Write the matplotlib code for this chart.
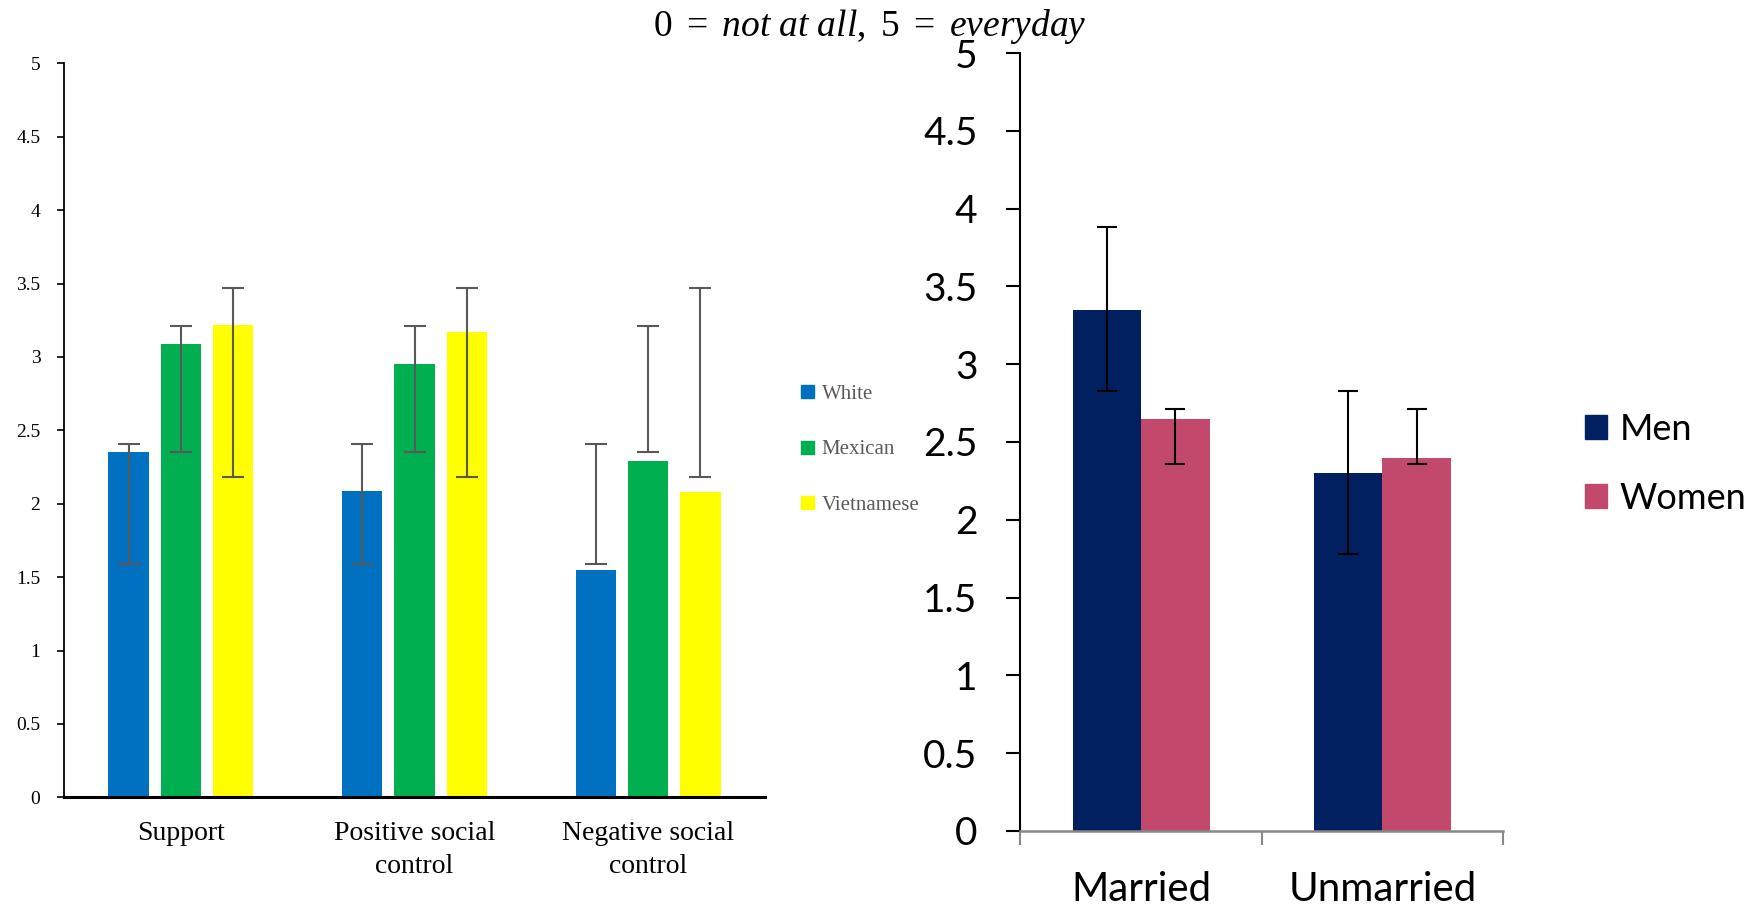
import numpy as np
import matplotlib
matplotlib.use("Agg")
import matplotlib.pyplot as plt
from matplotlib.ticker import FuncFormatter, FixedLocator
from matplotlib.patches import Patch

# left panel: ethnic groups
categories_left = ["Support", "Positive social\ncontrol", "Negative social\ncontrol"]
groups_left = ["White", "Mexican", "Vietnamese"]
white_vals = [2.35, 2.09, 1.55]
mexican_vals = [3.09, 2.95, 2.29]
vietnamese_vals = [3.22, 3.17, 2.08]
# error bars (low, high), same interval for each group
white_err = [1.59, 2.41]
mexican_err = [2.35, 3.21]
vietnamese_err = [2.18, 3.47]

# right panel: marital status
categories_right = ["Married", "Unmarried"]
groups_right = ["Men", "Women"]
men_vals = [3.35, 2.30]
women_vals = [2.65, 2.40]
men_low = [2.83, 1.78]
men_high = [3.88, 2.83]
women_low = [2.36, 2.36]
women_high = [2.71, 2.71]

left_colors = ["#0070C0", "#00B050", "#FFFF00"]
right_colors = ["#002060", "#C2496C"]

plt.rcParams["mathtext.fontset"] = "custom"
plt.rcParams["mathtext.rm"] = "Liberation Serif"
plt.rcParams["mathtext.it"] = "Liberation Serif:italic"

fig = plt.figure(figsize=(17.61, 9.06), dpi=100)
fmt = FuncFormatter(lambda v, p: f"{v:g}")

# ---------- left chart ----------
ax1 = fig.add_axes([0.0364, 0.120, 0.398, 0.810])
x = np.arange(len(categories_left))
width = 0.173
step = 0.224
left_vals = [white_vals, mexican_vals, vietnamese_vals]
left_errs = [white_err, mexican_err, vietnamese_err]
for k, (vals, err, c) in enumerate(zip(left_vals, left_errs, left_colors)):
    pos = x + (k - 1) * step
    ax1.bar(pos, vals, width, color=c, label=groups_left[k])
    lo, hi = err
    mid = np.full(len(pos), (lo + hi) / 2)
    ax1.errorbar(pos, mid, yerr=(hi - lo) / 2, fmt="none", ecolor="#595959",
                 elinewidth=1.5, capsize=8, capthick=1.5)

ax1.set_xlim(-0.5, 2.5)
ax1.set_ylim(0, 5)
ax1.set_yticks(np.arange(0, 5.01, 0.5))
ax1.yaxis.set_major_formatter(fmt)
ax1.set_xticks(x)
ax1.set_xticklabels(categories_left, family="Liberation Serif", fontsize=20,
                    linespacing=1.45)
for lab in ax1.get_yticklabels():
    lab.set_family("Liberation Serif")
ax1.tick_params(axis="y", length=5, width=1.2, pad=12, labelsize=14)
ax1.tick_params(axis="x", length=0, pad=17)
for s in ["top", "right"]:
    ax1.spines[s].set_visible(False)
ax1.spines["left"].set_linewidth(1.3)
ax1.spines["bottom"].set_linewidth(2.2)

handles_l = [Patch(color=c) for c in left_colors]
leg1 = fig.legend(handles_l, groups_left, loc="center left",
                  bbox_to_anchor=(801 / 1761, 1 - 450 / 906), frameon=False,
                  prop={"family": "Liberation Serif", "size": 15},
                  handlelength=0.6, handleheight=0.6, handletextpad=0.4,
                  labelspacing=1.75, borderpad=0, borderaxespad=0)
for t in leg1.get_texts():
    t.set_color("#595959")

# ---------- right chart ----------
ax2 = fig.add_axes([0.5795, 0.0828, 0.274, 0.8587])
xr = np.arange(len(categories_right))
wr = 0.284
right_vals = [men_vals, women_vals]
right_lo = [men_low, women_low]
right_hi = [men_high, women_high]
for k, (vals, c) in enumerate(zip(right_vals, right_colors)):
    pos = xr + (k - 0.5) * wr
    ax2.bar(pos, vals, wr, color=c)
    lo = np.array(right_lo[k])
    hi = np.array(right_hi[k])
    ax2.errorbar(pos, (lo + hi) / 2, yerr=(hi - lo) / 2, fmt="none",
                 ecolor="black", elinewidth=1.5, capsize=7, capthick=1.5)

ax2.set_xlim(-0.5, 1.5)
ax2.set_ylim(0, 5)
ax2.set_yticks(np.arange(0, 5.01, 0.5))
ax2.yaxis.set_major_formatter(fmt)
ax2.set_xticks(xr)
ax2.set_xticklabels(categories_right, family="Lato", fontsize=29)
ax2.xaxis.set_minor_locator(FixedLocator([-0.5, 0.5, 1.5]))
for lab in ax2.get_yticklabels():
    lab.set_family("Lato")
ax2.tick_params(axis="y", length=10, width=1.5, pad=21, labelsize=28)
ax2.tick_params(axis="x", which="major", length=0, pad=29)
ax2.tick_params(axis="x", which="minor", length=10, width=1.5, color="#888888")
for s in ["top", "right"]:
    ax2.spines[s].set_visible(False)
ax2.spines["left"].set_linewidth(1.5)
ax2.spines["bottom"].set_linewidth(1.8)
ax2.spines["bottom"].set_color("#888888")

handles_r = [Patch(color=c) for c in right_colors]
fig.legend(handles_r, groups_right, loc="center left",
           bbox_to_anchor=(1585 / 1761, 1 - 464 / 906), frameon=False,
           prop={"family": "Lato", "size": 26},
           handlelength=0.6, handleheight=0.65, handletextpad=0.35,
           labelspacing=1.0, borderpad=0, borderaxespad=0)

# ---------- title ----------
fig.text(870 / 1761, 1 - 26 / 906,
         r"$\mathrm{0\ =\ }\mathit{not\ at\ all}\mathrm{,\ 5\ =\ }\mathit{everyday}$",
         ha="center", va="center", fontsize=27)

fig.savefig("out.png", dpi=100)
